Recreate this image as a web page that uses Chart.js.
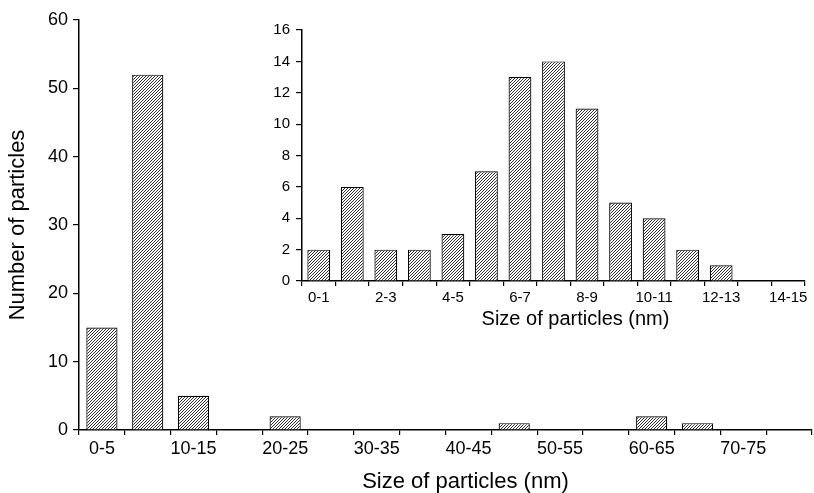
<!DOCTYPE html>
<html>
<head>
<meta charset="utf-8">
<script src="https://cdn.jsdelivr.net/npm/chart.js@4/dist/chart.umd.min.js"></script>
<style>
  html, body { margin: 0; padding: 0; background: #fff; overflow: hidden; }
  #wrap { position: relative; width: 814px; height: 493px; }
  #mainChart { position: absolute; left: 0; top: 0; }
  #insetChart { position: absolute; left: 262px; top: 10px; }
</style>
</head>
<body>
<div id="wrap">
  <canvas id="mainChart" width="814" height="493"></canvas>
  <canvas id="insetChart" width="552" height="330"></canvas>
</div>
<script>
// main histogram: 5 nm bins
const mainBins = ["0-5", "5-10", "10-15", "15-20", "20-25", "25-30", "30-35", "35-40",
                  "40-45", "45-50", "50-55", "55-60", "60-65", "65-70", "70-75", "75-80"];
const mainCounts = [15, 52, 5, 0, 2, 0, 0, 0, 0, 1, 0, 0, 2, 1, 0, 0];

// inset histogram: 1 nm bins
const insetBins = ["0-1", "1-2", "2-3", "3-4", "4-5", "5-6", "6-7", "7-8",
                   "8-9", "9-10", "10-11", "11-12", "12-13", "13-14", "14-15"];
const insetCounts = [2, 6, 2, 2, 3, 7, 13, 14, 11, 5, 4, 2, 1, 0, 0];

const xTitle = "Size of particles (nm)";
const yTitle = "Number of particles";

const FONT = "'Liberation Sans', Arial, sans-serif";

// hatch fill (////), 3px period
function hatch() {
    const c = document.createElement("canvas");
    c.width = 3; c.height = 3;
    const g = c.getContext("2d");
    g.fillStyle = "#fff";
    g.fillRect(0, 0, 3, 3);
    g.fillStyle = "#333";
    g.fillRect(0, 2, 1, 1);
    g.fillRect(1, 1, 1, 1);
    g.fillRect(2, 0, 1, 1);
    return g.createPattern(c, "repeat");
}

// x title drawn a bit right of the axis centre, like the original
const shiftedTitle = {
    id: "shiftedTitle",
    afterDraw(chart, args, opts) {
        const ctx = chart.ctx;
        const a = chart.chartArea;
        ctx.save();
        ctx.font = opts.size + "px " + FONT;
        ctx.fillStyle = "#000";
        ctx.textAlign = "center";
        ctx.textBaseline = "middle";
        ctx.fillText(opts.text, (a.left + a.right) / 2 + opts.dx, opts.y);
        ctx.restore();
    }
};

function makeChart(id, labels, values, cfg) {
    return new Chart(document.getElementById(id), {
        type: "bar",
        data: {
            labels: labels,
            datasets: [{
                data: values,
                backgroundColor: hatch(),
                borderColor: "#000",
                borderWidth: 1.2,
                barPercentage: 0.68,
                categoryPercentage: 1.0
            }]
        },
        plugins: [shiftedTitle],
        options: {
            responsive: false,
            animation: false,
            layout: { padding: cfg.padding },
            plugins: {
                legend: { display: false },
                tooltip: { enabled: false },
                shiftedTitle: cfg.title
            },
            scales: {
                x: {
                    offset: true,
                    border: { display: true, color: "#000", width: 1.5 },
                    grid: { offset: true, drawOnChartArea: false, drawTicks: true, tickLength: 5, color: "#000", lineWidth: 1.2 },
                    ticks: {
                        autoSkip: false,
                        maxRotation: 0,
                        padding: cfg.xPad,
                        color: "#000",
                        font: { family: FONT, size: cfg.tickSize },
                        callback: function(v, i) { return i % 2 === 0 ? labels[i] : ""; }
                    },
                    afterFit: function(s) { s.height = cfg.xHeight; }
                },
                y: {
                    min: 0,
                    max: cfg.yMax,
                    border: { display: true, color: "#000", width: 1.5 },
                    grid: { drawOnChartArea: false, drawTicks: true, tickLength: cfg.yTick, color: "#000", lineWidth: 1.2 },
                    ticks: {
                        stepSize: cfg.yStep,
                        padding: cfg.yPad,
                        color: "#000",
                        font: { family: FONT, size: cfg.tickSize }
                    },
                    title: cfg.yTitle,
                    afterFit: function(s) { s.width = cfg.yWidth; }
                }
            }
        }
    });
}

makeChart("mainChart", mainBins, mainCounts, {
    padding: { top: 20, right: 2, left: 0, bottom: 0 },
    tickSize: 18,
    xPad: 3,
    xHeight: 63,
    yMax: 60,
    yStep: 10,
    yTick: 6,
    yPad: 5,
    yWidth: 79,
    yTitle: { display: true, text: yTitle, color: "#000", font: { family: FONT, size: 22 }, padding: { top: 5, bottom: 0 } },
    title: { text: xTitle, dx: 20, y: 482, size: 22 }
});

makeChart("insetChart", insetBins, insetCounts, {
    padding: { top: 20, right: 9, left: 0, bottom: 0 },
    tickSize: 15,
    xPad: 3,
    xHeight: 59,
    yMax: 16,
    yStep: 2,
    yTick: 6,
    yPad: 6,
    yWidth: 40,
    yTitle: { display: false },
    title: { text: xTitle, dx: 22, y: 309, size: 20 }
});
</script>
</body>
</html>
